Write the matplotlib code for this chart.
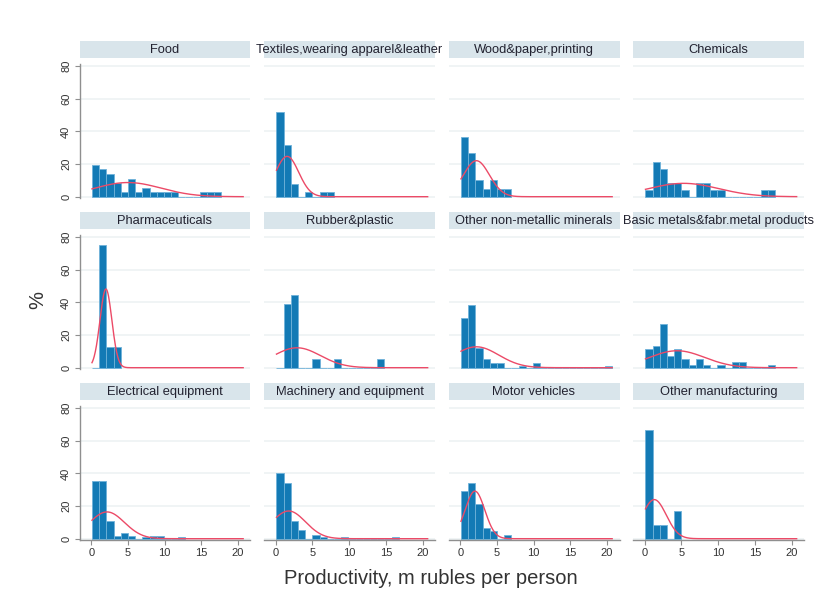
import numpy as np
import matplotlib
matplotlib.use("Agg")
import matplotlib.pyplot as plt

plt.rcParams['font.family'] = ['Liberation Sans', 'DejaVu Sans']

# ---- data: percent of firms per productivity bin (common bins for all sectors)
bin_start = 0.1
bin_width = 0.98

sectors = [
    "Food", "Textiles,wearing apparel&leather", "Wood&paper,printing", "Chemicals",
    "Pharmaceuticals", "Rubber&plastic", "Other non-metallic minerals",
    "Basic metals&fabr.metal products",
    "Electrical equipment", "Machinery and equipment", "Motor vehicles",
    "Other manufacturing",
]

food = [19.4, 16.7, 13.9, 8.3, 2.8, 11.1, 2.8, 5.6, 2.8, 2.8, 2.8, 2.8, 0, 0, 0, 2.8, 2.8, 2.8]
textiles = [52.0, 31.5, 8.0, 0, 2.6, 0, 2.6, 2.6]
wood = [36.5, 26.5, 10.0, 4.5, 10.0, 4.5, 4.5]
chemicals = [4.0, 21.5, 17.0, 8.3, 8.3, 4.0, 0, 8.3, 8.3, 4.0, 4.0, 0, 0, 0, 0, 0, 4.0, 4.0]
pharma = [0, 75.0, 12.5, 12.5]
rubber = [0, 38.9, 44.4, 0, 0, 5.6, 0, 0, 5.6, 0, 0, 0, 0, 0, 5.6]
nonmetal = [30.5, 38.5, 11.8, 5.5, 2.6, 2.6, 0, 0, 1.3, 0, 2.6, 0, 0, 0, 0, 0, 0, 0, 0, 0, 1.3]
basic = [11.4, 13.2, 27.1, 7.3, 11.4, 5.3, 1.5, 5.3, 1.5, 0, 1.5, 0, 3.7, 3.7, 0, 0, 0, 1.5]
electrical = [35.6, 35.6, 10.9, 1.8, 3.2, 1.8, 0, 1.2, 1.8, 1.8, 0, 0, 1.2]
machinery = [40.0, 34.3, 10.9, 5.1, 0, 2.0, 0.8, 0, 0, 1.0, 0, 0, 0, 0, 0, 0, 1.0]
motor = [29.0, 34.0, 21.0, 6.8, 4.5, 0, 2.3]
other = [66.7, 8.3, 8.3, 0, 16.7]

percents = [food, textiles, wood, chemicals, pharma, rubber, nonmetal, basic,
            electrical, machinery, motor, other]

# normal density overlay: mean and sd of productivity per sector
norm_mean = [5.0, 1.55, 2.2, 5.3, 2.0, 2.9, 2.2, 4.4, 2.15, 1.76, 2.0, 1.3]
norm_sd = [4.5, 1.58, 1.77, 4.77, 0.81, 3.2, 3.05, 3.76, 2.38, 2.3, 1.34, 1.63]
curve_range = (0.1, 20.7)

x_ticks = [0, 5, 10, 15, 20]
y_ticks = [0, 20, 40, 60, 80]

# ---- layout (pixel based)
W, H = 818, 602
fig = plt.figure(figsize=(W / 100, H / 100), dpi=100)
fig.patch.set_facecolor("white")

col_left = [79.5, 264.0, 448.5, 633.0]
panel_w = 171.0
row_step = 171.0
strip_top0 = 40.5
strip_h = 17.8
ax_top0 = 58.3
ax_bot0 = 198.0

bar_color = "#137ab5"
bar_edge = "#6fb2d9"
curve_color = "#ec4a67"
grid_color = "#edf2f4"
axis_color = "#8f8f8f"
strip_color = "#d9e5eb"
text_color = "#222230"


def fbox(x0, y0, x1, y1):
    return [x0 / W, 1 - y1 / H, (x1 - x0) / W, (y1 - y0) / H]


xs = np.linspace(curve_range[0], curve_range[1], 400)

for i, (name, pct) in enumerate(zip(sectors, percents)):
    r, c = divmod(i, 4)
    left = col_left[c]
    ax = fig.add_axes(fbox(left, ax_top0 + row_step * r, left + panel_w, ax_bot0 + row_step * r))
    ax.set_xlim(-1.6, 21.7)
    ax.set_ylim(-0.8, 84.9)
    ax.set_facecolor("white")
    for yv in y_ticks:
        ax.axhline(yv, color=grid_color, lw=1.2, zorder=0)

    edges = bin_start + bin_width * np.arange(len(pct))
    ax.bar(edges, pct, width=bin_width, align="edge", color=bar_color,
           edgecolor=bar_edge, linewidth=0.6, zorder=2)

    dens = 100 * bin_width * np.exp(-0.5 * ((xs - norm_mean[i]) / norm_sd[i]) ** 2) / (
        norm_sd[i] * np.sqrt(2 * np.pi))
    ax.plot(xs, dens, color=curve_color, lw=1.0, zorder=3)

    for s in ax.spines.values():
        s.set_visible(False)

    if c == 0:
        ax.spines["left"].set_visible(True)
        ax.spines["left"].set_color(axis_color)
        ax.spines["left"].set_linewidth(1.0)
        ax.spines["left"].set_bounds(-0.8, 81.5)
        ax.set_yticks(y_ticks)
        ax.set_yticklabels([str(v) for v in y_ticks], rotation=90, va="center")
        ax.tick_params(axis="y", length=3.5, width=0.8, color=axis_color,
                       labelsize=8, labelcolor="#333333", pad=2.5)
    else:
        ax.set_yticks([])

    if r == 2:
        ax.spines["bottom"].set_visible(True)
        ax.spines["bottom"].set_color(axis_color)
        ax.spines["bottom"].set_linewidth(1.0)
        ax.set_xticks(x_ticks)
        ax.set_xticklabels([str(v) for v in x_ticks])
        ax.tick_params(axis="x", length=3.5, width=0.8, color=axis_color,
                       labelsize=8, labelcolor="#333333", pad=2)
    else:
        ax.set_xticks([])

    # sector strip
    sax = fig.add_axes(fbox(left, strip_top0 + row_step * r, left + panel_w,
                            strip_top0 + row_step * r + strip_h))
    sax.set_facecolor(strip_color)
    sax.set_xticks([])
    sax.set_yticks([])
    for s in sax.spines.values():
        s.set_visible(False)
    sax.text(0.5, 0.45, name, ha="center", va="center", fontsize=9.3,
             color=text_color, transform=sax.transAxes)

fig.text(430.5 / W, 1 - 578 / H, "Productivity, m rubles per person",
         ha="center", va="center", fontsize=14.5, color="#333333")
fig.text(38 / W, 1 - 300 / H, "%", ha="center", va="center", rotation=90,
         fontsize=14.5, color="#333333")

fig.savefig("out.png", dpi=100, facecolor="white")
